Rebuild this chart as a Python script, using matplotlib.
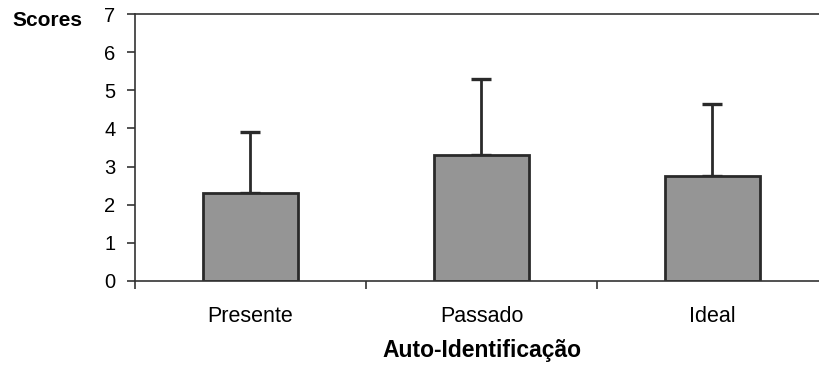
import matplotlib
matplotlib.use("Agg")
import matplotlib.pyplot as plt
import numpy as np

categories = ["Presente", "Passado", "Ideal"]
means = [2.3, 3.3, 2.75]
sd_upper = [1.6, 2.0, 1.9]
y_ticks = [0, 1, 2, 3, 4, 5, 6, 7]

plt.rcParams['font.family'] = ['Liberation Sans', 'DejaVu Sans']

W, H = 820, 366
fig = plt.figure(figsize=(W/100, H/100), dpi=100)
left, right = 135, 828
bottom, top = 281, 14
ax = fig.add_axes([left/W, 1 - bottom/H, (right-left)/W, (bottom-top)/H])

x = np.arange(len(categories))
ax.bar(x, means, width=0.41, color='#959595', edgecolor='#2a2a2a', linewidth=2.0, zorder=2)
ax.errorbar(x, means, yerr=[np.zeros(len(means)), sd_upper], fmt='none',
            ecolor='#2a2a2a', elinewidth=2.0, capsize=7, capthick=2.4, zorder=1)

ax.set_xlim(-0.5, len(categories) - 0.5)
ax.set_ylim(0, 7)
ax.set_yticks(y_ticks)
ax.set_yticklabels([str(v) for v in y_ticks], fontsize=14.5)
ax.set_xticks(np.arange(len(categories) + 1) - 0.5)
ax.set_xticklabels([])
ax.set_xticks(x, minor=True)
ax.set_xticklabels(categories, minor=True, fontsize=15.5)
ax.tick_params(axis='x', which='minor', length=0, pad=18)
ax.tick_params(axis='x', which='major', length=6, width=1.2, color='#333333', direction='out')
ax.tick_params(axis='y', length=6, width=1.2, color='#333333', direction='out', pad=8)
for s in ['left', 'top', 'bottom', 'right']:
    ax.spines[s].set_color('#333333')
    ax.spines[s].set_linewidth(1.2)

fig.text(12/W, 1 - 20/H, "Scores", fontsize=15, fontweight='bold', va='center', ha='left')
ax.set_xlabel("Auto-Identificação", fontsize=16.5, fontweight='bold', labelpad=9)

fig.savefig("out.png", dpi=100, facecolor='white')
